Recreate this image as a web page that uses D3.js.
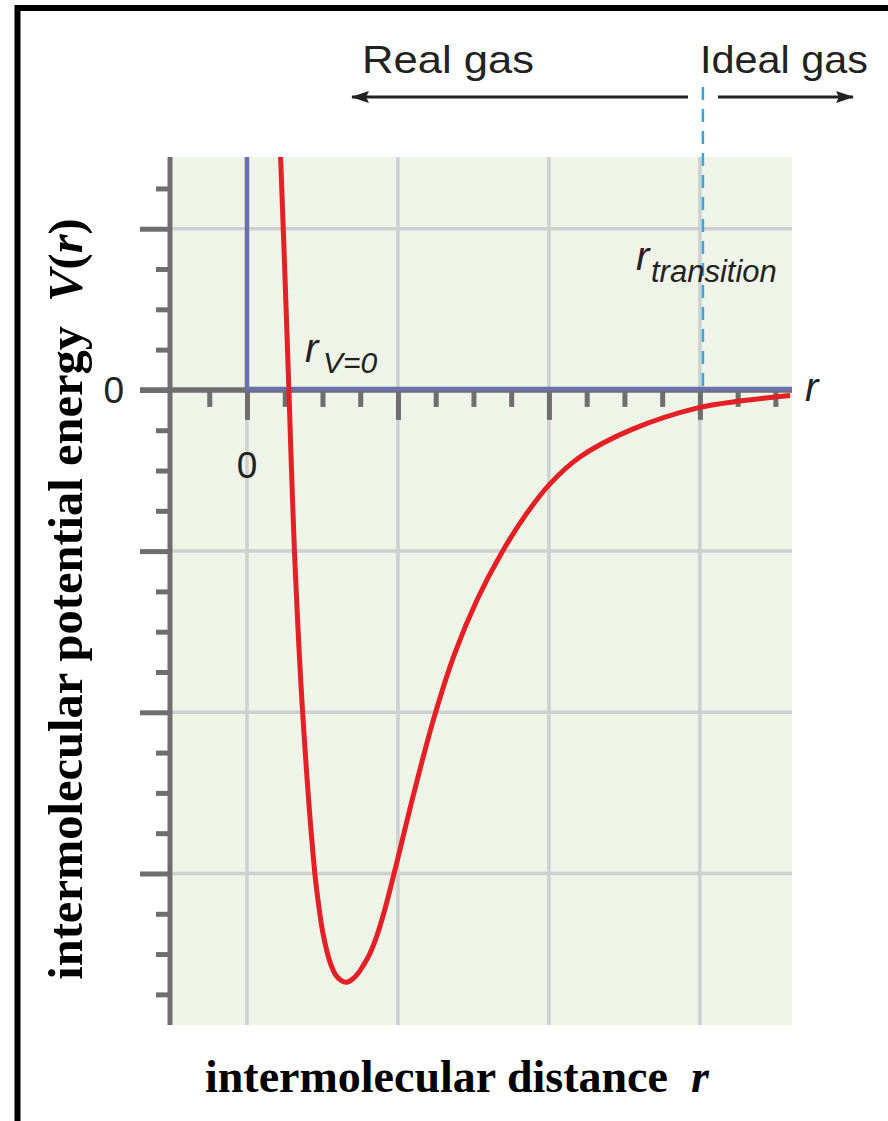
<!DOCTYPE html>
<html lang="en">
	<head>
		<meta charset="utf-8">
		<title>Intermolecular potential</title>
		<script type="text/javascript" src="https://cdn.jsdelivr.net/npm/d3@7"></script>
		<style type="text/css">
			body { margin: 0; background: #fff; }
			svg { display: block; }
			.sans { font-family: "Liberation Sans", Arial, Helvetica, sans-serif; fill: #222; }
			.serif { font-family: "Liberation Serif", "Times New Roman", serif; font-weight: bold; fill: #000; }
		</style>
	</head>
	<body>
		<script type="text/javascript">

			//Width and height
			var w = 888;
			var h = 1121;

			//Potential curve (r in tick units, V in tick units)
			var rVals = [0.89, 1.0, 1.11, 1.18, 1.26, 1.48, 1.80, 1.88, 2.01, 2.2, 2.35, 2.5, 2.64, 2.8, 2.95, 3.07, 3.25, 3.44, 3.65, 3.87, 3.99, 4.45, 4.95, 5.5, 6.1, 6.73, 7.37, 8.01, 8.83, 10.2, 11.97, 13.1, 14.39];
			var vVals = [5.78, 2.98, 0, -2.0, -4.07, -8.09, -12.02, -12.65, -13.47, -14.2, -14.52, -14.66, -14.7, -14.62, -14.47, -14.3, -14.0, -13.55, -12.9, -12.1, -11.65, -9.9, -8.15, -6.55, -5.2, -4.07, -3.12, -2.35, -1.66, -0.98, -0.44, -0.27, -0.14];

			//Ticks
			var xMajor = [0, 4, 8, 12];
			var xMinor = [-1, 1, 2, 3, 5, 6, 7, 9, 10, 11, 13, 14];
			var yMajor = [4, 0, -4, -8, -12];
			var yMinor = [5, 3, 2, 1, -1, -2, -3, -5, -6, -7, -9, -10, -11, -13, -14, -15];
			var xLabels = [0];
			var yLabels = [0];

			//Special positions
			var rWall = 0;
			var rTransition = 12;

			var points = rVals.map(function(r, i) { return { r: r, v: vVals[i] }; });

			//Scales
			var x = d3.scaleLinear().domain([-2.04, 14.44]).range([170, 792]);
			var y = d3.scaleLinear().domain([5.78, -15.76]).range([157, 1025]);

			var axisColor = "#6e6e6e";
			var gridColor = "#cdd0ce";

			//Create SVG element
			var svg = d3.select("body")
						.append("svg")
						.attr("width", w)
						.attr("height", h);

			//Frame, top and left
			svg.append("path")
				.attr("d", "M17.5," + h + " V8 H" + w)
				.attr("fill", "none")
				.attr("stroke", "#000")
				.attr("stroke-width", 6);

			//Plot background
			svg.append("rect")
				.attr("x", x.range()[0])
				.attr("y", y.range()[0])
				.attr("width", x.range()[1] - x.range()[0])
				.attr("height", y.range()[1] - y.range()[0])
				.attr("fill", "#eef4e7");

			//Grid lines
			svg.selectAll("line.gx")
				.data(xMajor)
				.enter()
				.append("line")
				.attr("class", "gx")
				.attr("x1", function(d) { return x(d); })
				.attr("x2", function(d) { return x(d); })
				.attr("y1", y.range()[0])
				.attr("y2", y.range()[1])
				.style("stroke", gridColor)
				.style("stroke-width", 3.5);

			svg.selectAll("line.gy")
				.data(yMajor.filter(function(d) { return d !== 0; }))
				.enter()
				.append("line")
				.attr("class", "gy")
				.attr("x1", x.range()[0])
				.attr("x2", x.range()[1])
				.attr("y1", function(d) { return y(d); })
				.attr("y2", function(d) { return y(d); })
				.style("stroke", gridColor)
				.style("stroke-width", 3.5);

			//Axes (ticks only, domain line drawn separately)
			function styleAxis(g) {
				g.select(".domain").remove();
				g.selectAll(".tick line").attr("stroke", axisColor).attr("stroke-width", 5);
				g.selectAll(".tick text").remove();
			}

			svg.append("g")
				.attr("transform", "translate(" + x.range()[0] + ",0)")
				.call(d3.axisLeft(y).tickValues(yMajor).tickSize(30))
				.call(styleAxis);
			svg.append("g")
				.attr("transform", "translate(" + x.range()[0] + ",0)")
				.call(d3.axisLeft(y).tickValues(yMinor).tickSize(14))
				.call(styleAxis);

			svg.append("g")
				.attr("transform", "translate(0," + y(0) + ")")
				.call(d3.axisBottom(x).tickValues(xMajor).tickSize(30))
				.call(styleAxis);
			svg.append("g")
				.attr("transform", "translate(0," + y(0) + ")")
				.call(d3.axisBottom(x).tickValues(xMinor).tickSize(17))
				.call(styleAxis);

			//Axis lines
			svg.append("line")
				.attr("x1", x.range()[0]).attr("x2", x.range()[0])
				.attr("y1", y.range()[0]).attr("y2", y.range()[1])
				.style("stroke", axisColor)
				.style("stroke-width", 5);
			svg.append("line")
				.attr("x1", x.range()[0] - 30).attr("x2", x.range()[1])
				.attr("y1", y(0)).attr("y2", y(0))
				.style("stroke", axisColor)
				.style("stroke-width", 5.5);

			//Hard wall / zero line in blue
			svg.append("path")
				.attr("d", "M" + x(rWall) + "," + y.range()[0] + " V" + (y(0) - 1) + " H" + x.range()[1])
				.attr("fill", "none")
				.attr("stroke", "#6970aa")
				.attr("stroke-width", 4.5);

			//Transition dashed line
			svg.append("line")
				.attr("x1", x(rTransition) + 3).attr("x2", x(rTransition) + 3)
				.attr("y1", 87).attr("y2", y(0))
				.style("stroke", "#39a6d8")
				.style("stroke-width", 2.5)
				.style("stroke-dasharray", "13,9");

			//Potential curve
			var line = d3.line()
				.x(function(d) { return x(d.r); })
				.y(function(d) { return y(d.v); })
				.curve(d3.curveCatmullRom.alpha(0.5));

			svg.append("path")
				.datum(points)
				.attr("d", line)
				.attr("fill", "none")
				.attr("stroke", "#e41f26")
				.attr("stroke-width", 5)
				.attr("stroke-linejoin", "round");

			//Tick labels
			svg.selectAll("text.yl")
				.data(yLabels)
				.enter()
				.append("text")
				.attr("class", "sans yl")
				.attr("x", x.range()[0] - 46)
				.attr("y", function(d) { return y(d) + 13; })
				.attr("text-anchor", "end")
				.style("font-size", "37px")
				.text(function(d) { return d; });

			svg.selectAll("text.xl")
				.data(xLabels)
				.enter()
				.append("text")
				.attr("class", "sans xl")
				.attr("x", function(d) { return x(d); })
				.attr("y", 478)
				.attr("text-anchor", "middle")
				.style("font-size", "37px")
				.text(function(d) { return d; });

			//Annotations
			var rv = svg.append("text")
				.attr("class", "sans")
				.attr("x", 305)
				.attr("y", 362)
				.style("font-style", "italic")
				.style("font-size", "40px");
			rv.append("tspan").text("r");
			rv.append("tspan").attr("x", 323).attr("y", 373).style("font-size", "30px").text("V=0");

			var rt = svg.append("text")
				.attr("class", "sans")
				.attr("x", 636)
				.attr("y", 270)
				.style("font-style", "italic")
				.style("font-size", "40px");
			rt.append("tspan").text("r");
			rt.append("tspan").attr("x", 651).attr("y", 282).style("font-size", "31px").text("transition");

			svg.append("text")
				.attr("class", "sans")
				.attr("x", 805)
				.attr("y", 401)
				.style("font-style", "italic")
				.style("font-size", "40px")
				.text("r");

			//Real gas / Ideal gas arrows
			svg.append("defs")
				.append("marker")
				.attr("id", "head")
				.attr("viewBox", "0 0 18 12")
				.attr("refX", 17)
				.attr("refY", 6)
				.attr("markerWidth", 18)
				.attr("markerHeight", 12)
				.attr("markerUnits", "userSpaceOnUse")
				.attr("orient", "auto")
				.append("path")
				.attr("d", "M0,0 L18,6 L0,12 L3,6 Z")
				.attr("fill", "#222");

			svg.append("line")
				.attr("x1", 688).attr("x2", 352)
				.attr("y1", 97).attr("y2", 97)
				.style("stroke", "#222")
				.style("stroke-width", 3)
				.attr("marker-end", "url(#head)");
			svg.append("line")
				.attr("x1", 718).attr("x2", 853)
				.attr("y1", 97).attr("y2", 97)
				.style("stroke", "#222")
				.style("stroke-width", 3)
				.attr("marker-end", "url(#head)");

			svg.append("text")
				.attr("class", "sans")
				.attr("x", 362)
				.attr("y", 73)
				.attr("textLength", 172)
				.attr("lengthAdjust", "spacingAndGlyphs")
				.style("font-size", "39px")
				.text("Real gas");
			svg.append("text")
				.attr("class", "sans")
				.attr("x", 700)
				.attr("y", 73)
				.attr("textLength", 168)
				.attr("lengthAdjust", "spacingAndGlyphs")
				.style("font-size", "39px")
				.text("Ideal gas");

			//Axis titles
			var xt = svg.append("text")
				.attr("class", "serif")
				.attr("x", 205)
				.attr("y", 1092)
				.style("font-size", "46px");
			xt.append("tspan").text("intermolecular distance\u00a0\u00a0");
			xt.append("tspan").style("font-style", "italic").text("r");

			var yt = svg.append("text")
				.attr("class", "serif")
				.attr("transform", "translate(82,599) rotate(-90)")
				.attr("text-anchor", "middle")
				.style("font-size", "48.5px");
			yt.append("tspan").text("intermolecular potential energy\u00a0\u00a0");
			yt.append("tspan").style("font-style", "italic").text("V");
			yt.append("tspan").text("(");
			yt.append("tspan").style("font-style", "italic").text("r");
			yt.append("tspan").text(")");

		</script>
	</body>
</html>
